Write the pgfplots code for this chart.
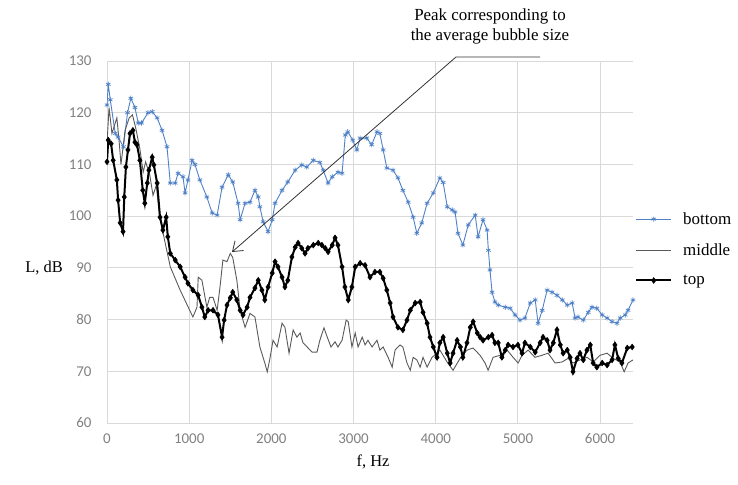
\documentclass[border=0pt]{standalone}
\usepackage{fontspec}
\setmainfont{Carlito}
\newfontfamily\seriffont{Liberation Serif}
\usepackage{pgfplots}
\pgfplotsset{compat=1.18}
\usetikzlibrary{arrows.meta}
\definecolor{bluel}{RGB}{79,129,199}
\definecolor{gridc}{RGB}{217,217,217}
\definecolor{tickc}{RGB}{128,128,128}
\begin{document}
\begin{tikzpicture}
\path[use as bounding box] (0bp,0bp) rectangle (738bp,485bp);
\begin{axis}[
  at={(107bp,62bp)}, anchor=south west,
  width=526bp, height=362bp, scale only axis,
  xmin=0, xmax=6400, ymin=60, ymax=130,
  xtick={0,1000,2000,3000,4000,5000,6000},
  ytick={60,70,80,90,100,110,120,130},
  axis line style={draw=none},
  grid=major, major grid style={draw=gridc, line width=0.9bp},
  major tick length=0pt,
  tick label style={font=\fontsize{15}{15}\selectfont, text=tickc},
  yticklabel style={xshift=-12bp},
  xticklabel style={yshift=-7bp},
  /pgf/number format/assume math mode=true,
  /pgf/number format/1000 sep={},
  scaled x ticks=false,
  legend image code/.code={\draw[mark repeat=2,mark phase=2,#1] plot coordinates {(0bp,0bp) (17.5bp,0bp) (35bp,0bp)};},
  legend style={at={(1,0.48)}, anchor=west, xshift=2bp, draw=none, fill=none,
    font=\seriffont\fontsize{17}{17}\selectfont, row sep=14bp, column sep=9bp, inner sep=0pt,
    nodes={inner sep=2bp}},
  legend cell align=left,
]
\addplot[color=bluel, line width=0.9bp, mark=asterisk, mark size=2.6bp, mark options={line width=0.7bp}] coordinates {
(0,121.5) (15,125.5) (40,122.5) (100,116) (135,115.3) (200,113.4) (250,120) (290,122.8) (340,121) (380,118) (420,118) (500,120) (550,120.2) (610,119) (670,116.6) (730,113.4) (770,106.4) (830,106.4) (865,108.3) (925,107.6) (950,104.5) (985,107) (1035,110.8) (1070,110) (1130,107) (1215,103.7) (1280,100.6) (1340,100.2) (1400,105.6) (1475,108) (1530,106.6) (1595,102.5) (1620,99.3) (1680,102.5) (1740,102.7) (1800,105) (1840,103.7) (1860,101.8) (1900,98.9) (1960,97) (2010,99.3) (2045,102.5) (2130,105) (2200,106.6) (2290,108.9) (2370,109.9) (2430,109.5) (2510,110.8) (2590,110.4) (2630,108.9) (2690,106.4) (2740,107.6) (2810,108.5) (2860,108.3) (2900,115.7) (2930,116.3) (2990,114.7) (3040,112.8) (3080,115.1) (3160,115.1) (3220,113.8) (3285,116.3) (3320,116) (3360,112.8) (3405,109.3) (3480,108.9) (3540,107.4) (3600,105) (3665,102.7) (3725,99.8) (3770,96.7) (3830,98.7) (3895,102.5) (3970,104.5) (4050,107.4) (4090,106.5) (4140,101.8) (4200,101.2) (4235,100.8) (4270,96.7) (4330,94.4) (4395,98.3) (4480,100.2) (4515,96) (4575,99.3) (4625,97.3) (4640,93.4) (4660,89.6) (4685,85.3) (4720,83.4) (4760,82.8) (4845,82.4) (4905,82.2) (4965,80.9) (5025,79.9) (5085,80.3) (5150,83.2) (5210,83.8) (5245,79.3) (5295,81.8) (5355,85.7) (5415,85.3) (5475,84.7) (5540,83.8) (5600,82.8) (5660,83.2) (5695,80.3) (5730,80.5) (5795,79.9) (5855,81.4) (5900,82.4) (5960,82.2) (6025,80.9) (6085,80.3) (6145,79.6) (6205,79.3) (6245,80.3) (6305,80.9) (6340,81.8) (6400,83.8)
};
\addlegendentry{bottom}
\addplot[color=black!65, line width=0.9bp, no markers] coordinates {
(0,114) (25,121) (60,116) (120,119) (150,114) (170,110) (220,116.6) (270,119) (310,119.6) (350,117) (400,113) (440,108.5) (470,110.5) (520,108) (560,104) (600,106) (640,100) (700,95.4) (770,90.2) (890,85.7) (1045,80.5) (1095,82.4) (1110,88.2) (1155,87.6) (1215,82.4) (1250,84.3) (1290,84.3) (1340,81.8) (1375,86.3) (1410,91.5) (1460,91.2) (1500,92.8) (1530,92) (1580,87.6) (1620,81.8) (1680,78.5) (1740,81.2) (1800,80.5) (1860,74.7) (1920,71.6) (1950,69.9) (1985,72.7) (2020,76) (2070,74.7) (2130,79.3) (2165,78.5) (2215,73.5) (2265,78) (2310,76.6) (2350,77.4) (2385,75.5) (2435,74.7) (2495,73.7) (2555,73.7) (2590,76) (2640,78.4) (2680,76.6) (2725,74.7) (2775,75.7) (2810,74.7) (2860,76) (2910,79.9) (2935,79.6) (2980,74.7) (3020,77.4) (3055,74.7) (3105,76.6) (3140,75.1) (3175,76) (3225,74.7) (3285,76) (3320,74.1) (3360,74.7) (3420,72.7) (3470,70.8) (3505,74.1) (3565,75.1) (3600,74.7) (3650,71.6) (3690,70.2) (3725,72.7) (3770,72.2) (3810,70.8) (3845,72.7) (3895,70.8) (3955,72.7) (4015,73.5) (4050,74.1) (4138,71.8) (4211,70.2) (4296,72.5) (4381,74.1) (4454,74.5) (4539,73.1) (4600,71.6) (4637,70.2) (4698,72.7) (4783,73.1) (4868,74.1) (4941,72.7) (5002,71.6) (5051,73.1) (5124,74.1) (5207,72.7) (5294,73.1) (5367,73.5) (5452,71.6) (5537,71.8) (5610,72.5) (5671,71.6) (5756,72.2) (5842,72.7) (5915,71.8) (6000,73.1) (6085,73.5) (6158,72.5) (6243,71.8) (6292,69.9) (6340,71.6) (6400,72.2)
};
\addlegendentry{middle}
\addplot[color=black, line width=2bp, mark=diamond*, mark size=2.9bp, mark options={line width=0.5bp}] coordinates {
(0,110.5) (15,114.7) (50,114) (75,110.8) (120,107) (135,103.1) (160,98.7) (195,97) (210,103.7) (230,109.5) (255,112.8) (280,116) (315,116.6) (340,114.3) (365,113.8) (400,110.8) (435,105) (460,102.5) (490,106.4) (510,108.9) (550,111.4) (570,109.9) (610,106.4) (645,99.8) (680,97.3) (720,99.8) (740,96) (770,92.8) (830,91.5) (890,90.2) (950,88.2) (985,87) (1045,85.7) (1110,84.7) (1155,82.4) (1190,80.5) (1230,81.8) (1290,81.8) (1350,80.9) (1400,76.6) (1425,79.9) (1460,82.8) (1500,84.2) (1530,85.3) (1580,83.8) (1620,81.8) (1655,80.9) (1705,82.4) (1740,84.3) (1800,86.1) (1840,87.6) (1885,85.7) (1920,83.8) (1960,86.3) (2010,89) (2045,91.2) (2080,90.2) (2130,88.2) (2165,86.3) (2200,87.6) (2250,92.1) (2290,94) (2325,94.8) (2370,93.8) (2410,92.8) (2445,93.8) (2510,94.4) (2570,94.8) (2615,94.4) (2655,93.8) (2690,93.1) (2740,94.4) (2775,95.8) (2810,94.4) (2860,90.2) (2895,86.3) (2935,83.8) (2980,86.3) (3020,90.2) (3080,90.9) (3140,90.5) (3200,88.2) (3260,89.2) (3320,89.2) (3360,88) (3405,85.7) (3445,83.2) (3480,80.5) (3540,78.5) (3600,78) (3650,79.9) (3690,81.8) (3750,83.2) (3810,83.4) (3845,81.4) (3895,79.3) (3930,76.6) (3970,74.7) (4015,72.7) (4050,75.5) (4090,76.6) (4140,73.5) (4175,71.6) (4210,73.5) (4260,76) (4300,74.7) (4330,72.7) (4380,75.5) (4420,78.5) (4455,79.6) (4505,77.4) (4540,76.6) (4575,76) (4640,76.6) (4685,77) (4720,75.5) (4760,75.5) (4805,72.7) (4845,74.1) (4880,75.1) (4940,74.7) (5000,75.1) (5050,73.5) (5085,75.5) (5150,74.7) (5210,73.7) (5270,75.5) (5305,76.6) (5355,76) (5390,74.1) (5430,75.5) (5475,78) (5515,75.1) (5550,73.5) (5600,74.1) (5635,72.7) (5670,69.9) (5720,72.5) (5755,73.5) (5795,72.2) (5840,74.1) (5880,75.1) (5915,71.6) (5960,70.8) (6025,71.6) (6085,71.2) (6145,72.2) (6180,75.1) (6220,72.5) (6265,71.6) (6330,74.5) (6390,74.7)
};
\addlegendentry{top}
\end{axis}
\node[font=\seriffont\fontsize{16.5}{16.5}\selectfont] at (373bp,23bp) {f, Hz};
\node[font=\seriffont\fontsize{16.5}{16.5}\selectfont] at (44bp,217bp) {L, dB};
\node[font=\seriffont\fontsize{17}{20}\selectfont, align=center] at (490bp,459bp) {Peak corresponding to\\the average bubble size};
\draw[black!80, line width=0.8bp, -{Straight Barb[length=9bp,width=13bp]}] (540bp,428bp) -- (456bp,428bp) -- (232bp,233bp);
\end{tikzpicture}
\end{document}
